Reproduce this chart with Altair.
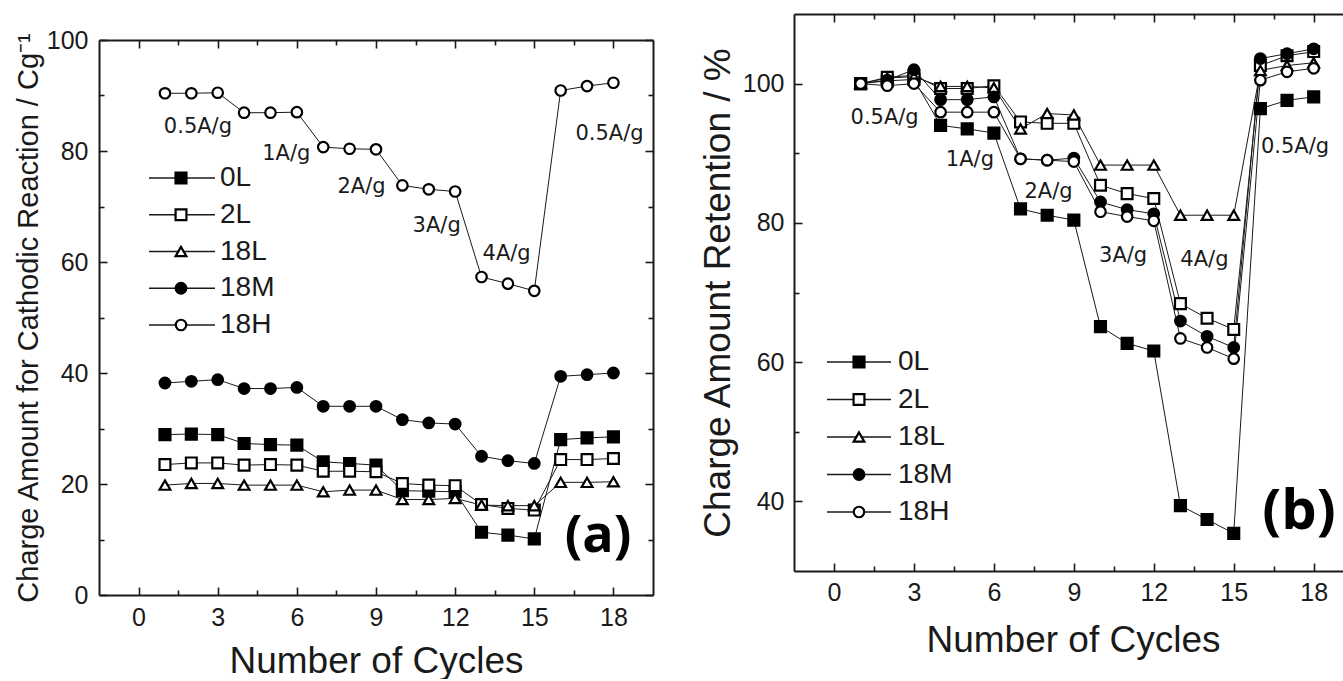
import altair as alt
import pandas as pd

# ---------------- data ----------------
cycles = list(range(1, 19))
series = ["0L", "2L", "18L", "18M", "18H"]
shapes = ["square", "square", "triangle-up", "circle", "circle"]
fills = ["black", "white", "white", "black", "white"]
sizes = [120, 110, 140, 110, 105]

# panel (a): charge amount for cathodic reaction (C/g)
charge_0L = [28.9, 29.0, 28.9, 27.3, 27.1, 27.0, 24.0, 23.7, 23.4, 18.8, 18.7, 18.6, 11.3, 10.8, 10.1, 28.0, 28.3, 28.5]
charge_2L = [23.5, 23.8, 23.8, 23.4, 23.5, 23.4, 22.3, 22.3, 22.2, 20.1, 19.8, 19.7, 16.3, 15.6, 15.3, 24.4, 24.4, 24.6]
charge_18L = [19.8, 20.1, 20.1, 19.8, 19.8, 19.8, 18.6, 18.9, 18.9, 17.2, 17.2, 17.4, 16.2, 16.1, 16.1, 20.3, 20.3, 20.4]
charge_18M = [38.2, 38.5, 38.8, 37.2, 37.2, 37.4, 34.0, 34.0, 34.0, 31.6, 31.0, 30.8, 25.0, 24.2, 23.7, 39.4, 39.7, 40.0]
charge_18H = [90.4, 90.4, 90.5, 86.9, 86.9, 87.0, 80.7, 80.4, 80.3, 73.8, 73.1, 72.7, 57.3, 56.1, 54.8, 90.9, 91.7, 92.3]

# panel (b): charge amount retention (%)
ret_0L = [100.0, 100.4, 100.6, 94.0, 93.5, 92.9, 82.0, 81.1, 80.4, 65.1, 62.7, 61.6, 39.4, 37.4, 35.4, 96.4, 97.6, 98.1]
ret_2L = [100.0, 100.9, 101.2, 99.3, 99.3, 99.7, 94.5, 94.3, 94.3, 85.4, 84.2, 83.5, 68.4, 66.3, 64.7, 102.6, 104.0, 104.6]
ret_18L = [100.0, 100.8, 101.0, 99.6, 99.6, 99.4, 93.5, 95.7, 95.5, 88.3, 88.3, 88.3, 81.1, 81.1, 81.1, 101.9, 102.6, 103.0]
ret_18M = [100.0, 100.5, 102.0, 97.7, 97.7, 98.1, 89.2, 89.0, 89.3, 83.0, 81.9, 81.3, 65.9, 63.7, 62.1, 103.6, 104.3, 105.0]
ret_18H = [100.0, 99.7, 100.0, 95.9, 95.9, 95.9, 89.2, 89.0, 88.8, 81.6, 80.9, 80.3, 63.4, 62.1, 60.5, 100.5, 101.7, 102.2]

rate_labels = ["0.5A/g", "1A/g", "2A/g", "3A/g", "4A/g", "0.5A/g"]
rate_a_x = [2.25, 5.6, 8.45, 11.3, 13.95, 17.85]
rate_a_y = [84.3, 79.4, 73.5, 66.4, 61.4, 83.0]
rate_b_x = [1.9, 5.1, 8.05, 10.85, 13.9, 17.3]
rate_b_y = [95.0, 89.0, 84.4, 75.3, 74.6, 90.9]

x_major = [0, 3, 6, 9, 12, 15, 18]
x_minor = [1.5, 4.5, 7.5, 10.5, 13.5, 16.5]
ya_major = [0, 20, 40, 60, 80, 100]
ya_minor = [10, 30, 50, 70, 90]
yb_major = [40, 60, 80, 100]
yb_minor = [50, 70, 90]


def long_df(cols):
    rows = []
    for s, vals in zip(series, cols):
        for c, v in zip(cycles, vals):
            rows.append({"cycle": c, "value": v, "series": s})
    return pd.DataFrame(rows)


df_a = long_df([charge_0L, charge_2L, charge_18L, charge_18M, charge_18H])
df_b = long_df([ret_0L, ret_2L, ret_18L, ret_18M, ret_18H])
ann_a = pd.DataFrame({"label": rate_labels, "cycle": rate_a_x, "value": rate_a_y})
ann_b = pd.DataFrame({"label": rate_labels, "cycle": rate_b_x, "value": rate_b_y})
leg_df = pd.DataFrame({"series": series, "row": list(range(len(series)))})

# ---------------- styling ----------------
INK = "#1a1a1a"
TICK_FONT = "Liberation Sans, Arial, sans-serif"
TITLE_FONT = "Liberation Sans, Arial, sans-serif"
ANN_FONT = "DejaVu Sans, sans-serif"

shape_enc = alt.Shape("series:N", scale=alt.Scale(domain=series, range=shapes), legend=None)
fill_enc = alt.Fill("series:N", scale=alt.Scale(domain=series, range=fills), legend=None)
size_enc = alt.Size("series:N", scale=alt.Scale(domain=series, range=sizes), legend=None)


def frame_axis(orient, values=None, labels=False, offset=0, label_pad=10, title=None, **kw):
    args = dict(orient=orient, ticks=False, tickSize=0, domain=True, domainColor=INK,
                domainWidth=2, grid=False, labels=labels, offset=offset)
    if values is not None:
        args["values"] = values
    if labels:
        args.update(labelFont=TICK_FONT, labelFontSize=25, labelColor=INK,
                    labelPadding=label_pad, labelFlush=False, labelOverlap=False)
    if title is not None:
        args.update(title=title, titleFont=TITLE_FONT, titleColor=INK,
                    titleFontWeight="normal", titleAlign="center", titleBaseline="middle")
        args.update(kw)
    else:
        args["title"] = None
    return alt.Axis(**args)


def tick_axis(orient, values, length, offset=0):
    return alt.Axis(orient=orient, values=values, ticks=True, tickSize=length,
                    tickColor=INK, tickWidth=1.6, domain=False, labels=False,
                    grid=False, title=None, offset=offset - length)


def panel(df, ann, xdom, ydom, width, height, yrange, top_shift,
          xmaj, xmin, ymaj, ymin, right_frame, ytitle, ytitle_x, ytitle_size,
          xtitle_x, xtitle_y, ylab_pad, xlab_pad, leg_rows, leg_x, tag, tag_xy, tag_size):
    xsc = alt.Scale(domain=xdom, nice=False, zero=False)

    def ysc():
        if yrange is not None:
            return alt.Scale(domain=ydom, nice=False, zero=False, range=yrange)
        return alt.Scale(domain=ydom, nice=False, zero=False)

    def axis_layer(xaxis, yaxis):
        return alt.Chart(df).mark_point(opacity=0).encode(
            x=alt.X("cycle:Q", scale=xsc, axis=xaxis),
            y=alt.Y("value:Q", scale=ysc(), axis=yaxis),
        )

    layers = []
    # frame + labels + titles
    layers.append(axis_layer(
        frame_axis("bottom", xmaj, labels=True, label_pad=xlab_pad, title="Number of Cycles",
                   titleFontSize=37, titleX=xtitle_x, titleY=xtitle_y),
        frame_axis("left", ymaj, labels=True, label_pad=ylab_pad, title=ytitle,
                   titleFontSize=ytitle_size, titleX=ytitle_x, titleY=height / 2 + top_shift / 2,
                   titleAngle=270),
    ))
    layers.append(axis_layer(
        frame_axis("top", xmaj, offset=-top_shift),
        frame_axis("right", ymaj) if right_frame else None,
    ))
    # inward major / minor ticks
    layers.append(axis_layer(tick_axis("bottom", xmaj, 8), tick_axis("left", ymaj, 8)))
    layers.append(axis_layer(tick_axis("bottom", xmin, 5), tick_axis("left", ymin, 5)))
    layers.append(axis_layer(tick_axis("top", xmaj, 8, -top_shift),
                             tick_axis("right", ymaj, 8) if right_frame else None))
    layers.append(axis_layer(tick_axis("top", xmin, 5, -top_shift),
                             tick_axis("right", ymin, 5) if right_frame else None))

    base_x = alt.X("cycle:Q", scale=xsc, axis=None)
    lines = alt.Chart(df).mark_line(color=INK, strokeWidth=1).encode(
        x=base_x, y=alt.Y("value:Q", scale=ysc(), axis=None), detail="series:N")
    pts = alt.Chart(df).mark_point(stroke="black", strokeWidth=2.2, opacity=1, fillOpacity=1).encode(
        x=base_x, y=alt.Y("value:Q", scale=ysc(), axis=None),
        shape=shape_enc, fill=fill_enc, size=size_enc)
    ann_layer = alt.Chart(ann).mark_text(font=ANN_FONT, fontSize=21, color=INK,
                                         align="center", baseline="middle").encode(
        x=base_x, y=alt.Y("value:Q", scale=ysc(), axis=None), text="label:N")
    layers += [lines, pts, ann_layer]

    # legend (rows placed by an independent linear scale)
    leg_y = alt.Y("row:Q", scale=alt.Scale(domain=[0, len(series) - 1], range=leg_rows,
                                           nice=False, zero=False), axis=None)
    layers.append(alt.Chart(leg_df).mark_rule(color=INK, strokeWidth=1.5).encode(
        x=alt.value(leg_x[0]), x2=alt.value(leg_x[1]), y=leg_y))
    layers.append(alt.Chart(leg_df).mark_point(stroke="black", strokeWidth=2.2, opacity=1, fillOpacity=1).encode(
        x=alt.value(leg_x[2]), y=leg_y, shape=shape_enc, fill=fill_enc, size=size_enc))
    layers.append(alt.Chart(leg_df).mark_text(font=TITLE_FONT, fontSize=28, color=INK,
                                              align="left", baseline="middle").encode(
        x=alt.value(leg_x[3]), y=leg_y, text="series:N"))
    # panel tag
    layers.append(alt.Chart(pd.DataFrame({"tag": [tag]})).mark_text(
        font="Open Sans, sans-serif", fontWeight="bold", fontSize=tag_size, color="black",
        align="center", baseline="middle").encode(
        x=alt.value(tag_xy[0]), y=alt.value(tag_xy[1]), text="tag:N"))

    return alt.layer(*layers).resolve_scale(y="independent").resolve_axis(
        x="independent", y="independent").properties(width=width, height=height)


panel_a = panel(df_a, ann_a, [-1.5, 19.5], [0, 100], 554, 581, [581, 26], 26,
                x_major, x_minor, ya_major, ya_minor, True,
                "Charge Amount for Cathodic Reaction / Cg⁻¹", -71, 29,
                277, 66, 11, 10,
                [164, 311], [50, 116, 82, 121],
                "(a)", [499, 522], 52)

panel_b = panel(df_b, ann_b, [-1.5, 19.1], [30, 110], 549, 557, None, 0,
                x_major, x_minor, yb_major, yb_minor, False,
                "Charge Amount Retention / %", -76, 37,
                279, 69, 10, 9,
                [348, 498], [33, 97, 65, 104],
                "(b)", [505, 498], 56)

chart = alt.hconcat(panel_a, panel_b, spacing=141, bounds="flush").properties(
    padding={"left": 13, "top": 13, "right": 0, "bottom": 0},
    background="white",
).configure_view(stroke=None)

chart.save("out.html", embed_options={"renderer": "svg", "actions": False})
